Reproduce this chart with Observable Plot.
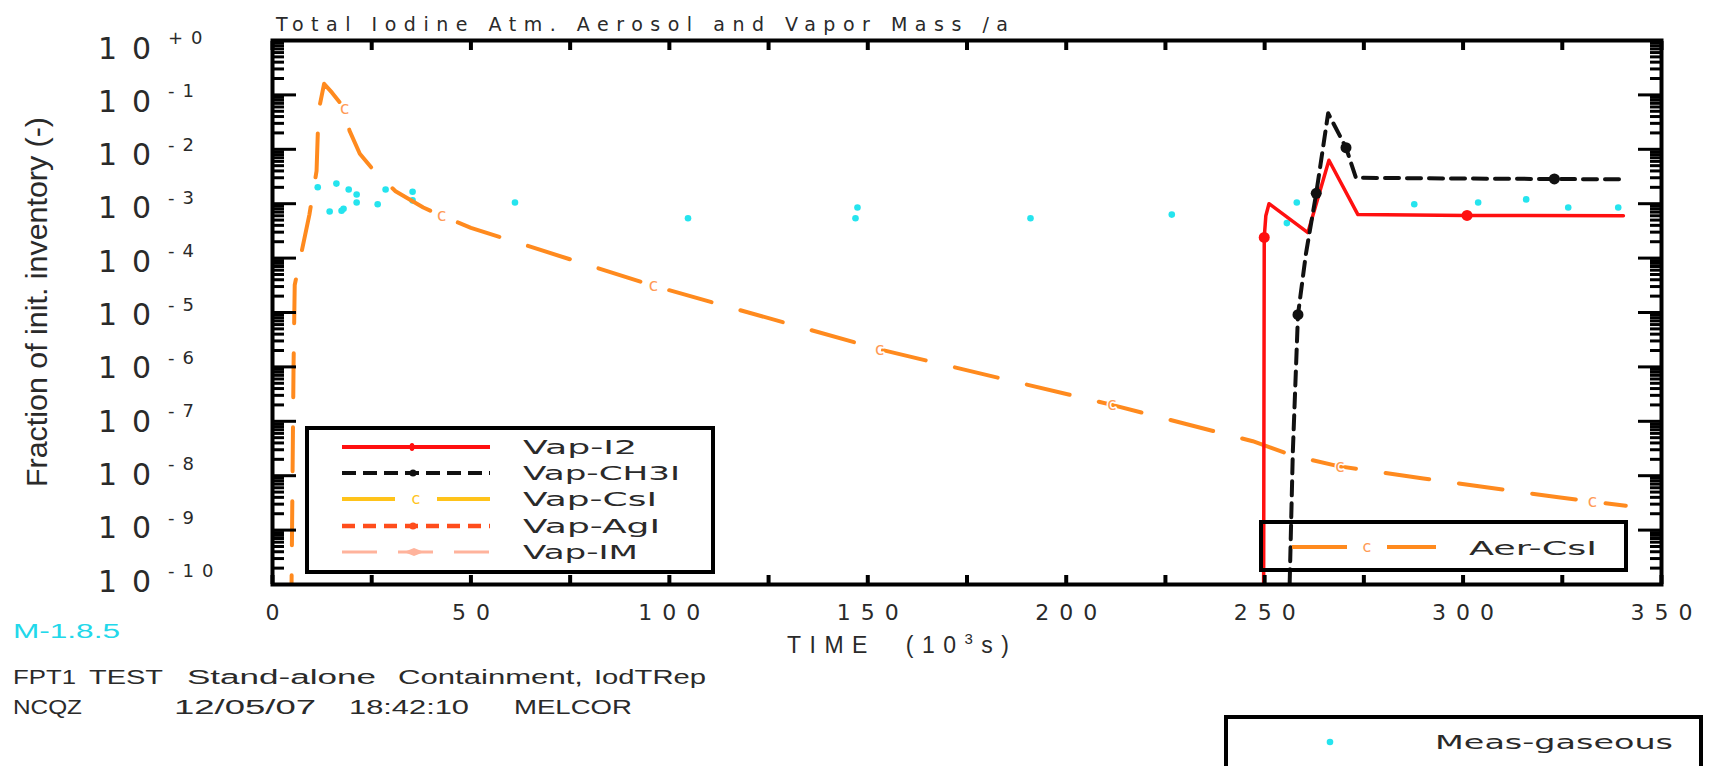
<!DOCTYPE html>
<html><head><meta charset="utf-8">
<script src="https://cdn.jsdelivr.net/npm/d3@7"></script>
<script src="https://cdn.jsdelivr.net/npm/@observablehq/plot@0.6"></script>
<style>html,body{margin:0;padding:0;background:#fff;} svg{display:block;}</style>
</head><body><div id="chart"></div>
<script>
// ---------- data ----------
const aerCsiTime  = [4.5, 4.8, 5.3, 5.6, 7, 9.3, 11.1, 11.6, 13, 15, 18.2, 19.4, 22, 26, 31, 38, 42.6, 50, 96, 153, 211.5, 247, 257.4, 268.5, 290, 324, 341];
const aerCsiValue = [1e-12, 1e-10, 1e-6, 3.2e-5, 1e-4, 6.3e-4, 4e-3, 0.05, 0.16, 0.11, 0.056, 0.022, 8.3e-3, 3.7e-3, 1.7e-3, 8.5e-4, 6e-4, 3.6e-4, 3.1e-5, 2.1e-6, 2.0e-7, 4.3e-8, 2.3e-8, 1.5e-8, 8.9e-9, 4e-9, 2.8e-9];
const aerCsiMarkTime  = [18.2, 42.6, 96, 153, 211.5, 269, 332.6];
const aerCsiMarkValue = [0.056, 6e-4, 3.1e-5, 2.1e-6, 2.0e-7, 1.48e-8, 3.4e-9];

const vapI2Time  = [249.7, 249.9, 250.3, 251.1, 260.9, 266.2, 273.5, 301, 340.4];
const vapI2Value = [1e-12, 2.4e-4, 6e-4, 1.0e-3, 2.95e-4, 6.3e-3, 6.3e-4, 6.1e-4, 6.0e-4];
const vapI2MarkTime  = [249.9, 301];
const vapI2MarkValue = [2.4e-4, 6.1e-4];

const vapCH3ITime  = [256.0, 256.3, 257.1, 258.4, 260.4, 263.0, 266.0, 270.5, 273.0, 300, 340.4];
const vapCH3IValue = [1e-12, 1e-10, 2.7e-8, 9.1e-6, 1.2e-4, 1.55e-3, 0.046, 0.0107, 3.0e-3, 2.9e-3, 2.8e-3];
const vapCH3IMarkTime  = [258.4, 263.0, 270.5, 323];
const vapCH3IMarkValue = [9.1e-6, 1.55e-3, 0.0107, 2.85e-3];

const measTime  = [11.4, 16.1, 19.2, 21.2, 21.2, 17.9, 17.4, 14.4, 26.5, 28.5, 35.3, 35.3, 61.1, 104.7, 147.4, 146.9, 191.0, 226.6, 258.1, 255.6, 287.7, 303.8, 315.9, 326.5, 339.1];
const measValue = [2.0e-3, 2.34e-3, 1.82e-3, 1.48e-3, 1.05e-3, 8.1e-4, 7.4e-4, 7.2e-4, 9.8e-4, 1.82e-3, 1.66e-3, 1.15e-3, 1.05e-3, 5.4e-4, 8.5e-4, 5.4e-4, 5.4e-4, 6.3e-4, 1.05e-3, 4.4e-4, 9.8e-4, 1.05e-3, 1.2e-3, 8.5e-4, 8.5e-4];

const xTickLabels   = [0, 50, 100, 150, 200, 250, 300, 350];
const xMinorTicks   = [0, 25, 50, 75, 100, 125, 150, 175, 200, 225, 250, 275, 300, 325, 350];
const yTickPowers   = [0, -1, -2, -3, -4, -5, -6, -7, -8, -9, -10];
const yTickExponents = ["+0", "-1", "-2", "-3", "-4", "-5", "-6", "-7", "-8", "-9", "-10"];

const legendLabels = ["Vap-I2", "Vap-CH3I", "Vap-CsI", "Vap-AgI", "Vap-IM"];
const legendColors = ["#ff1010", "#111111", "#ffc31a", "#ff4d1c", "#ffb39c"];

const titleText = "Total Iodine Atm. Aerosol and Vapor Mass /a";
const yLabelText = "Fraction of init. inventory (-)";

// ---------- tables ----------
const zip = (t, v) => t.map((d, i) => ({t: d, v: v[i]}));
const aer = zip(aerCsiTime, aerCsiValue);
const aerMarks = zip(aerCsiMarkTime, aerCsiMarkValue);
const i2 = zip(vapI2Time, vapI2Value);
const i2Marks = zip(vapI2MarkTime, vapI2MarkValue);
const ch3i = zip(vapCH3ITime, vapCH3IValue);
const ch3iMarks = zip(vapCH3IMarkTime, vapCH3IMarkValue);
const meas = zip(measTime, measValue);

const yMajor = yTickPowers.map(p => Math.pow(10, p));
const yMinor = [];
for (let p = -10; p < 0; p++) for (let m = 2; m <= 9; m++) yMinor.push(m * Math.pow(10, p));

const ORANGE = "#ff8a1e";
const CYAN = "#25e4ee";
const TXT = "#2a2a2a";

const chart = Plot.plot({
  width: 1709, height: 766,
  marginLeft: 272, marginRight: 48, marginTop: 40, marginBottom: 182,
  style: {background: "#fff", fontFamily: "DejaVu Sans", overflow: "visible"},
  x: {domain: [0, 350], label: null},
  y: {type: "log", domain: [1e-10, 1], label: null},
  marks: [
    Plot.dot(meas, {x: "t", y: "v", r: 3.3, fill: CYAN, stroke: null}),
    Plot.line(aer, {x: "t", y: "v", stroke: ORANGE, strokeWidth: 4, strokeDasharray: "44,30", clip: true}),
    Plot.text(aerMarks, {x: "t", y: "v", text: () => "c", fill: "#ff9a55", fontSize: 17, stroke: "white", strokeWidth: 3, paintOrder: "stroke"}),
    Plot.line(i2, {x: "t", y: "v", stroke: "#ff1010", strokeWidth: 3.5, clip: true}),
    Plot.dot(i2Marks, {x: "t", y: "v", r: 5.5, fill: "#ff1010"}),
    Plot.line(ch3i, {x: "t", y: "v", stroke: "#111", strokeWidth: 4, strokeDasharray: "14,8", clip: true}),
    Plot.dot(ch3iMarks, {x: "t", y: "v", r: 5.5, fill: "#111"}),
    Plot.frame({stroke: "black", strokeWidth: 4}),
    Plot.axisY({anchor: "left", ticks: yMinor, tickSize: -12, tickFormat: () => "", strokeWidth: 3, label: null}),
    Plot.axisY({anchor: "left", ticks: yMajor, tickSize: -24, tickFormat: () => "", strokeWidth: 3, label: null}),
    Plot.axisY({anchor: "right", ticks: yMinor, tickSize: -12, tickFormat: () => "", strokeWidth: 3, label: null}),
    Plot.axisY({anchor: "right", ticks: yMajor, tickSize: -24, tickFormat: () => "", strokeWidth: 3, label: null}),
    Plot.axisX({anchor: "bottom", ticks: xMinorTicks, tickSize: -9, tickFormat: () => "", strokeWidth: 4, label: null}),
    Plot.axisX({anchor: "top", ticks: xMinorTicks, tickSize: -9, tickFormat: () => "", strokeWidth: 4, label: null}),
    Plot.axisX({anchor: "bottom", ticks: xTickLabels, tickSize: 0, tickPadding: 20, fontSize: 22, fill: TXT, label: null})
  ]
});
document.getElementById("chart").appendChild(chart);

// ---------- post-processing with d3 ----------
const svg = d3.select(chart);
const ys = chart.scale("y");

// letter-spaced x tick labels
svg.selectAll('g[aria-label="x-axis tick label"] text')
  .attr("letter-spacing", 10).attr("dx", 5).style("font-family", "DejaVu Sans");

const g = svg.append("g").attr("font-family", "DejaVu Sans").attr("fill", TXT).attr("text-anchor", "start");

// y tick labels: 10^exp (label drifts slightly from its tick, as in the original)
yTickPowers.forEach((p, i) => {
  const y = ys.apply(Math.pow(10, p)) + 8 - 1.1 * Math.abs(p);
  g.append("text").attr("x", 98).attr("y", y + 10.5).attr("font-size", 30)
    .attr("letter-spacing", 15).text("10");
  g.append("text").attr("x", 168).attr("y", y - 4).attr("font-size", 18)
    .attr("letter-spacing", 8).text(yTickExponents[i]);
});

// title
g.append("text").attr("x", 276).attr("y", 31).attr("font-size", 19)
  .attr("textLength", 732).attr("lengthAdjust", "spacing").text(titleText);

// y axis label
g.append("text").attr("transform", "translate(47,302) rotate(-90)").attr("text-anchor", "middle")
  .attr("font-size", 30).attr("font-family", "Liberation Sans Narrow, Liberation Sans, sans-serif")
  .attr("textLength", 370).attr("lengthAdjust", "spacingAndGlyphs").text(yLabelText);

// x axis label
const tl = g.append("text").attr("x", 787).attr("y", 653).attr("font-size", 23)
  .attr("letter-spacing", 8.5).attr("font-family", "Liberation Sans, sans-serif");
tl.append("tspan").text("TIME  (10");
tl.append("tspan").attr("dy", -9).attr("font-size", 15).text("3");
tl.append("tspan").attr("dy", 9).text("s)");

// footer
const foot = [
  ["M-1.8.5", 13, 638, 107, "#22d8ea"],
  ["FPT1", 13, 684, 63, TXT], ["TEST", 89, 684, 74, TXT], ["Stand-alone", 187, 684, 189, TXT],
  ["Containment,", 398, 684, 185, TXT], ["IodTRep", 594, 684, 112, TXT],
  ["NCQZ", 13, 714, 69, TXT], ["12/05/07", 174, 714, 142, TXT], ["18:42:10", 349, 714, 120, TXT], ["MELCOR", 514, 714, 118, TXT]
];
foot.forEach(([s, x, y, len, col]) => {
  g.append("text").attr("x", x).attr("y", y).attr("font-size", 20).attr("fill", col)
    .attr("font-family", "Liberation Sans, sans-serif")
    .attr("textLength", len).attr("lengthAdjust", "spacingAndGlyphs").text(s);
});

// legend 1 (vapour species)
const lg = svg.append("g").attr("text-anchor", "start");
lg.append("rect").attr("x", 307).attr("y", 428).attr("width", 406).attr("height", 144)
  .attr("fill", "none").attr("stroke", "black").attr("stroke-width", 4);
const rowsY = [447, 473, 499, 526, 552];
const textLens = [114, 157, 134, 137, 115];
legendLabels.forEach((lab, i) => {
  const y = rowsY[i], col = legendColors[i];
  if (i === 0) {
    lg.append("line").attr("x1", 342).attr("x2", 490).attr("y1", y).attr("y2", y).attr("stroke", col).attr("stroke-width", 4);
    lg.append("ellipse").attr("cx", 412).attr("cy", y).attr("rx", 2.5).attr("ry", 4).attr("fill", col);
  } else if (i === 1) {
    lg.append("line").attr("x1", 342).attr("x2", 490).attr("y1", y).attr("y2", y).attr("stroke", col).attr("stroke-width", 4).attr("stroke-dasharray", "14,7");
    lg.append("circle").attr("cx", 413).attr("cy", y).attr("r", 3.5).attr("fill", col);
  } else if (i === 2) {
    lg.append("line").attr("x1", 342).attr("x2", 395).attr("y1", y).attr("y2", y).attr("stroke", col).attr("stroke-width", 4);
    lg.append("line").attr("x1", 437).attr("x2", 490).attr("y1", y).attr("y2", y).attr("stroke", col).attr("stroke-width", 4);
    lg.append("text").attr("x", 416).attr("y", y + 5).attr("text-anchor", "middle").attr("font-size", 16).attr("font-family", "DejaVu Sans").attr("fill", col).text("c");
  } else if (i === 3) {
    lg.append("line").attr("x1", 342).attr("x2", 490).attr("y1", y).attr("y2", y).attr("stroke", col).attr("stroke-width", 4.5).attr("stroke-dasharray", "13,8");
    lg.append("circle").attr("cx", 413).attr("cy", y).attr("r", 3.5).attr("fill", col);
  } else {
    lg.append("line").attr("x1", 342).attr("x2", 490).attr("y1", y).attr("y2", y).attr("stroke", col).attr("stroke-width", 3).attr("stroke-dasharray", "35,21");
    lg.append("path").attr("d", `M404,${y}l10,-4l10,4l-10,4z`).attr("fill", col);
  }
  lg.append("text").attr("x", 523).attr("y", y + 7).attr("font-size", 19).attr("font-family", "DejaVu Sans").attr("fill", TXT)
    .attr("textLength", textLens[i]).attr("lengthAdjust", "spacingAndGlyphs").text(lab);
});

// legend 2 (aerosol)
lg.append("rect").attr("x", 1261).attr("y", 522).attr("width", 365).attr("height", 48)
  .attr("fill", "none").attr("stroke", "black").attr("stroke-width", 4);
lg.append("line").attr("x1", 1292).attr("x2", 1347).attr("y1", 547).attr("y2", 547).attr("stroke", ORANGE).attr("stroke-width", 4);
lg.append("line").attr("x1", 1387).attr("x2", 1436).attr("y1", 547).attr("y2", 547).attr("stroke", ORANGE).attr("stroke-width", 4);
lg.append("text").attr("x", 1367).attr("y", 552).attr("text-anchor", "middle").attr("font-size", 16).attr("font-family", "DejaVu Sans").attr("fill", "#ff9a55").text("c");
lg.append("text").attr("x", 1469).attr("y", 555).attr("font-size", 19).attr("font-family", "DejaVu Sans").attr("fill", TXT)
  .attr("textLength", 128).attr("lengthAdjust", "spacingAndGlyphs").text("Aer-CsI");

// legend 3 (measurements)
lg.append("rect").attr("x", 1226).attr("y", 717).attr("width", 475).attr("height", 60)
  .attr("fill", "none").attr("stroke", "black").attr("stroke-width", 4);
lg.append("circle").attr("cx", 1330).attr("cy", 742).attr("r", 3.3).attr("fill", CYAN);
lg.append("text").attr("x", 1435).attr("y", 749).attr("font-size", 19).attr("font-family", "DejaVu Sans").attr("fill", TXT)
  .attr("textLength", 238).attr("lengthAdjust", "spacingAndGlyphs").text("Meas-gaseous");
</script>
</body></html>
